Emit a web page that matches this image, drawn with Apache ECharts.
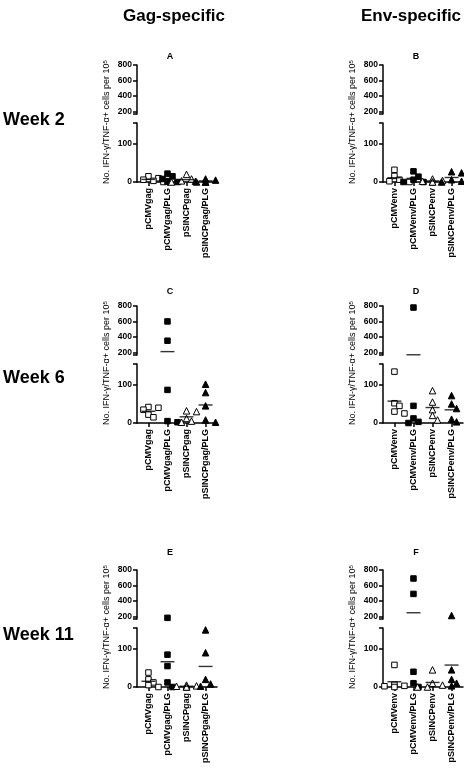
<!DOCTYPE html>
<html><head><meta charset="utf-8">
<script src="https://cdn.jsdelivr.net/npm/echarts@6/dist/echarts.min.js"></script>
<style>html,body{margin:0;padding:0;background:#fff}#c{width:464px;height:776px}</style>
</head><body><div id="c"></div>
<script>
// ---------------- data ----------------
const gagCategories = ['pCMVgag', 'pCMVgag/PLG', 'pSINCPgag', 'pSINCPgag/PLG'];
const envCategories = ['pCMVenv', 'pCMVenv/PLG', 'pSINCPenv', 'pSINCPenv/PLG'];
const weekLabels = ['Week 2', 'Week 6', 'Week 11'];
const columnTitles = ['Gag-specific', 'Env-specific'];
const panelLetters = ['A', 'B', 'C', 'D', 'E', 'F'];
const lowerTicks = [0, 100];
const upperTicks = [200, 400, 600, 800];
const yAxisTitle = 'No. IFN-γ/TNF-α+ cells per 10';

// one inner list per group (mouse values)
const week2Gag = [[15, 10, 6, 3, 0], [22, 15, 8, 1, 0], [20, 8, 3, 0, 0], [8, 5, 2, 0, 0]];
const week2Env = [[32, 16, 6, 2, 0], [28, 14, 6, 0, 0], [8, 4, 2, 0, 0], [27, 24, 6, 2, 0]];
const week6Gag = [[42, 40, 35, 22, 15], [600, 350, 87, 5, 2], [32, 30, 12, 5, 2], [102, 80, 45, 8, 2]];
const week6Env = [[135, 52, 45, 30, 25], [780, 45, 12, 3, 0], [85, 55, 35, 20, 8], [72, 50, 38, 10, 3]];
const week11Gag = [[38, 20, 12, 5, 0], [180, 85, 55, 12, 0], [5, 3, 2, 0, 0], [150, 90, 20, 8, 2]];
const week11Env = [[58, 6, 3, 2, 0], [690, 490, 40, 10, 0], [45, 10, 5, 0, 0], [210, 45, 20, 10, 3]];

// ---------------- layout ----------------
const FONT = '"Liberation Sans", Arial, Helvetica, sans-serif';
const rowZero = [182, 423, 687];
const letterY = [57, 292, 553];
const weekY = [120, 378, 635];
const colLeft = [137, 383];
const plotW = 80;
const xMin = -0.6, xMax = 3.6;
const lowerMax = 155, upperMin = 165, upperMax = 800;
const lowerH = 59, upperH = 49, upperTopOff = 117;

const panels = [
  { data: week2Gag, cats: gagCategories, row: 0, col: 0 },
  { data: week2Env, cats: envCategories, row: 0, col: 1 },
  { data: week6Gag, cats: gagCategories, row: 1, col: 0 },
  { data: week6Env, cats: envCategories, row: 1, col: 1 },
  { data: week11Gag, cats: gagCategories, row: 2, col: 0 },
  { data: week11Env, cats: envCategories, row: 2, col: 1 }
];

const markStyles = [
  { symbol: 'rect', size: 5.5, fill: '#fff' },
  { symbol: 'rect', size: 5.5, fill: '#000' },
  { symbol: 'triangle', size: 6.5, fill: '#fff' },
  { symbol: 'triangle', size: 6.5, fill: '#000' }
];

// approx pixel height above zero, used only to spread overlapping points sideways
function pxHeight(v) {
  if (v <= lowerMax) return v * lowerH / lowerMax;
  return (upperTopOff - upperH) + (v - upperMin) * upperH / (upperMax - upperMin);
}
const pxPerX = plotW / (xMax - xMin);
function spread(values) {
  const order = values.map((v, i) => i).sort((a, b) => values[b] - values[a]);
  const placed = [];
  const offs = new Array(values.length).fill(0);
  const step = 5, minD = 5.5;
  for (const i of order) {
    const h = pxHeight(values[i]);
    for (const k of [0, 1, -1, 2, -2, 3, -3]) {
      const dx = k * step;
      if (placed.every(p => Math.hypot(p.dx - dx, p.h - h) >= minD)) {
        placed.push({ dx, h }); offs[i] = dx / pxPerX; break;
      }
    }
  }
  return offs;
}

const grids = [], xAxes = [], yAxes = [], series = [], graphics = [];
const axisLineStyle = { color: '#000', width: 1.5 };

panels.forEach((p, pi) => {
  const y0 = rowZero[p.row];
  const left = colLeft[p.col];
  const gLower = grids.length;
  grids.push({ left, width: plotW, top: y0 - lowerH, height: lowerH, outerBoundsMode: 'none', containLabel: false });
  const gUpper = grids.length;
  grids.push({ left, width: plotW, top: y0 - upperTopOff, height: upperH, outerBoundsMode: 'none', containLabel: false });

  xAxes.push({
    type: 'value', gridIndex: gLower, min: xMin, max: xMax,
    axisLine: { show: true, onZero: false, lineStyle: axisLineStyle },
    axisTick: { show: true, customValues: [0, 1, 2, 3], length: 4, lineStyle: axisLineStyle },
    axisLabel: {
      show: true, customValues: [0, 1, 2, 3], formatter: v => p.cats[Math.round(v)],
      rotate: 90, fontSize: 9, fontWeight: 'bold', color: '#000', fontFamily: FONT, margin: 6
    },
    splitLine: { show: false }
  });
  xAxes.push({ type: 'value', gridIndex: gUpper, min: xMin, max: xMax, show: false, splitLine: { show: false } });

  yAxes.push({
    type: 'value', gridIndex: gLower, min: 0, max: lowerMax,
    axisLine: { show: true, onZero: false, lineStyle: axisLineStyle },
    axisTick: { show: true, customValues: [0, 100, lowerMax], length: 4, lineStyle: axisLineStyle },
    axisLabel: { show: true, customValues: lowerTicks, fontSize: 8.5, fontWeight: 'bold', color: '#000', fontFamily: FONT, margin: 5 },
    splitLine: { show: false }
  });
  yAxes.push({
    type: 'value', gridIndex: gUpper, min: upperMin, max: upperMax,
    axisLine: { show: true, onZero: false, lineStyle: axisLineStyle },
    axisTick: { show: true, customValues: [upperMin].concat(upperTicks), length: 4, lineStyle: axisLineStyle },
    axisLabel: { show: true, customValues: upperTicks, fontSize: 8.5, fontWeight: 'bold', color: '#000', fontFamily: FONT, margin: 5 },
    splitLine: { show: false }
  });

  p.data.forEach((vals, gi) => {
    const ms = markStyles[gi];
    const offs = spread(vals);
    const lowPts = [], upPts = [];
    vals.forEach((v, i) => {
      const pt = [gi + offs[i], v];
      if (v <= lowerMax) lowPts.push(pt); else upPts.push(pt);
    });
    const st = {
      type: 'scatter', symbol: ms.symbol, symbolSize: ms.size, silent: true, z: 3,
      itemStyle: { color: ms.fill, borderColor: '#000', borderWidth: 1, opacity: 1 }
    };
    series.push(Object.assign({}, st, { xAxisIndex: gLower, yAxisIndex: gLower, data: lowPts }));
    if (upPts.length) series.push(Object.assign({}, st, { xAxisIndex: gUpper, yAxisIndex: gUpper, data: upPts }));
    const mean = vals.reduce((a, b) => a + b, 0) / vals.length;
    const mg = mean > lowerMax ? gUpper : gLower;
    series.push({
      type: 'scatter', xAxisIndex: mg, yAxisIndex: mg, symbol: 'rect', symbolSize: [14, 1.4], silent: true, z: 4,
      itemStyle: { color: '#000' }, data: [[gi, Math.max(mean, mg === gUpper ? upperMin : 0)]]
    });
  });

  // panel letter
  graphics.push({ type: 'text', x: left + 33, y: letterY[p.row], style: { text: panelLetters[pi], font: 'bold 9px ' + FONT, fill: '#000', align: 'center', verticalAlign: 'middle' } });
  // y axis title
  graphics.push({
    type: 'text', x: left - 30, y: y0 - 60, rotation: Math.PI / 2,
    style: {
      text: yAxisTitle + '{s|5}', font: '9px ' + FONT, fill: '#000', align: 'center', verticalAlign: 'middle',
      rich: { s: { fontSize: 6, fontFamily: FONT, fill: '#000', verticalAlign: 'top', lineHeight: 6 } }
    }
  });
});

weekLabels.forEach((w, i) => graphics.push({ type: 'text', x: 3, y: weekY[i], style: { text: w, font: 'bold 18px ' + FONT, fill: '#000', align: 'left', verticalAlign: 'middle' } }));
columnTitles.forEach((t, i) => graphics.push({ type: 'text', x: [174, 411][i], y: 16, style: { text: t, font: 'bold 17px ' + FONT, fill: '#000', align: 'center', verticalAlign: 'middle' } }));

const chart = echarts.init(document.getElementById('c'), null, { renderer: 'canvas' });
chart.setOption({
  animation: false, backgroundColor: '#fff',
  grid: grids, xAxis: xAxes, yAxis: yAxes, series, graphic: graphics
});
</script></body></html>
